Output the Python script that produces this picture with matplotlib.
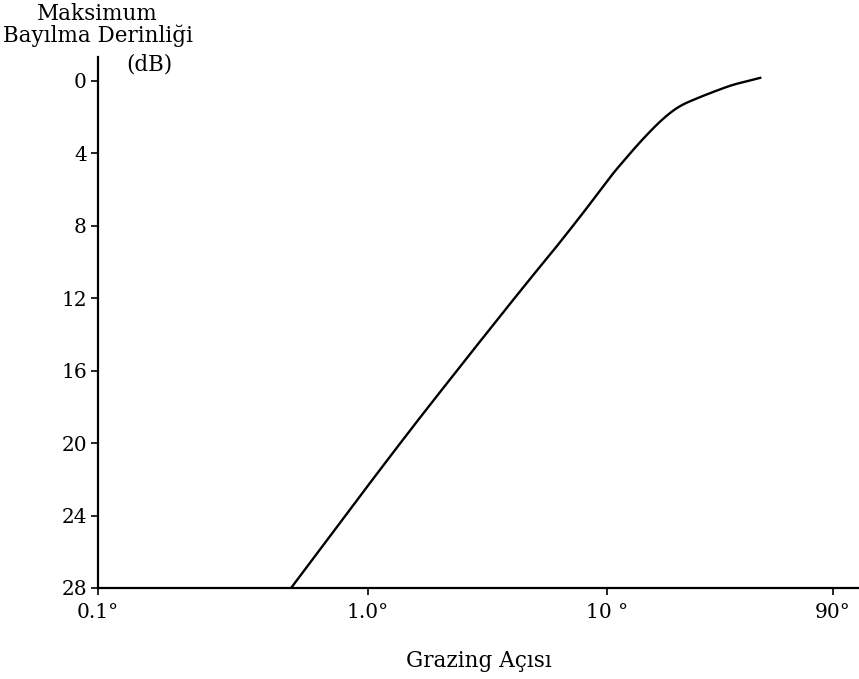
import numpy as np
import matplotlib
matplotlib.use("Agg")
import matplotlib.pyplot as plt
from matplotlib.ticker import FixedLocator, FixedFormatter

# values
grazing_deg = [0.52, 1.31, 2.56, 4.78, 5.62, 7.72, 9.35, 10.6, 11.7, 12.9, 14.5,
               17.0, 20.0, 23.9, 29.0, 34.1, 38.9, 44.3]
fade_depth_db = [28.0, 20.3, 15.4, 10.9, 9.8, 7.5, 6.05, 5.1, 4.45, 3.8, 3.07,
                 2.15, 1.42, 0.98, 0.55, 0.22, 0.04, -0.15]

x_ticks = [0.1, 1.0, 10.0, 90.0]
x_labels = ["0.1°", "1.0°", "10 °", "90°"]
y_ticks = [0, 4, 8, 12, 16, 20, 24, 28]

# the original axis is "log" but the first decade is drawn wider than the others
log_pts = np.log10([0.01, 0.1, 1.0, 10.0, 90.0, 1000.0])
pos_pts = np.array([-173.0, 97.0, 367.0, 607.0, 833.0, 1100.0])


def fwd(x):
    return np.interp(np.log10(np.clip(x, 1e-6, None)), log_pts, pos_pts)


def inv(p):
    return 10 ** np.interp(p, pos_pts, log_pts)


def chaikin(px, py, n=4):
    # corner cutting, keeps the two end points
    for _ in range(n):
        qx, qy = [px[0]], [py[0]]
        for i in range(len(px) - 1):
            qx += [0.75 * px[i] + 0.25 * px[i + 1], 0.25 * px[i] + 0.75 * px[i + 1]]
            qy += [0.75 * py[i] + 0.25 * py[i + 1], 0.25 * py[i] + 0.75 * py[i + 1]]
        qx.append(px[-1])
        qy.append(py[-1])
        px, py = qx, qy
    return np.array(px), np.array(py)


plt.rcParams["font.family"] = ["DejaVu Serif"]

fig = plt.figure(figsize=(8.59, 6.79), dpi=100)
ax = fig.add_axes((98 / 859, 91 / 679, 761 / 859, 531 / 679))

# smooth in drawn-axis space so the segments stay straight on the odd scale
sx, sy = chaikin(list(fwd(np.array(grazing_deg))), list(fade_depth_db))
ax.plot(inv(sx), sy, color="black", lw=1.7)

ax.set_xscale("function", functions=(fwd, inv))
ax.set_xlim(0.1, inv(859.0))
ax.set_ylim(28, -1.3)

ax.xaxis.set_major_locator(FixedLocator(x_ticks))
ax.xaxis.set_major_formatter(FixedFormatter(x_labels))
ax.xaxis.set_minor_locator(FixedLocator([]))
ax.set_yticks(y_ticks)

for s in ["top", "right"]:
    ax.spines[s].set_visible(False)
for s in ["left", "bottom"]:
    ax.spines[s].set_linewidth(1.6)

ax.tick_params(axis="both", direction="out", length=5, width=1.2, labelsize=14.5, colors="black")
ax.tick_params(axis="x", pad=6)
ax.tick_params(axis="y", pad=3)

ax.set_xlabel("Grazing Açısı", fontsize=15.5, labelpad=20)

fig.text(97 / 859, 1 - 14 / 679, "Maksimum", ha="center", va="center", fontsize=15.5)
fig.text(98 / 859, 1 - 36 / 679, "Bayılma Derinliği", ha="center", va="center", fontsize=15.5)
fig.text(149 / 859, 1 - 65 / 679, "(dB)", ha="center", va="center", fontsize=15.5)

fig.savefig("out.png", dpi=100)
